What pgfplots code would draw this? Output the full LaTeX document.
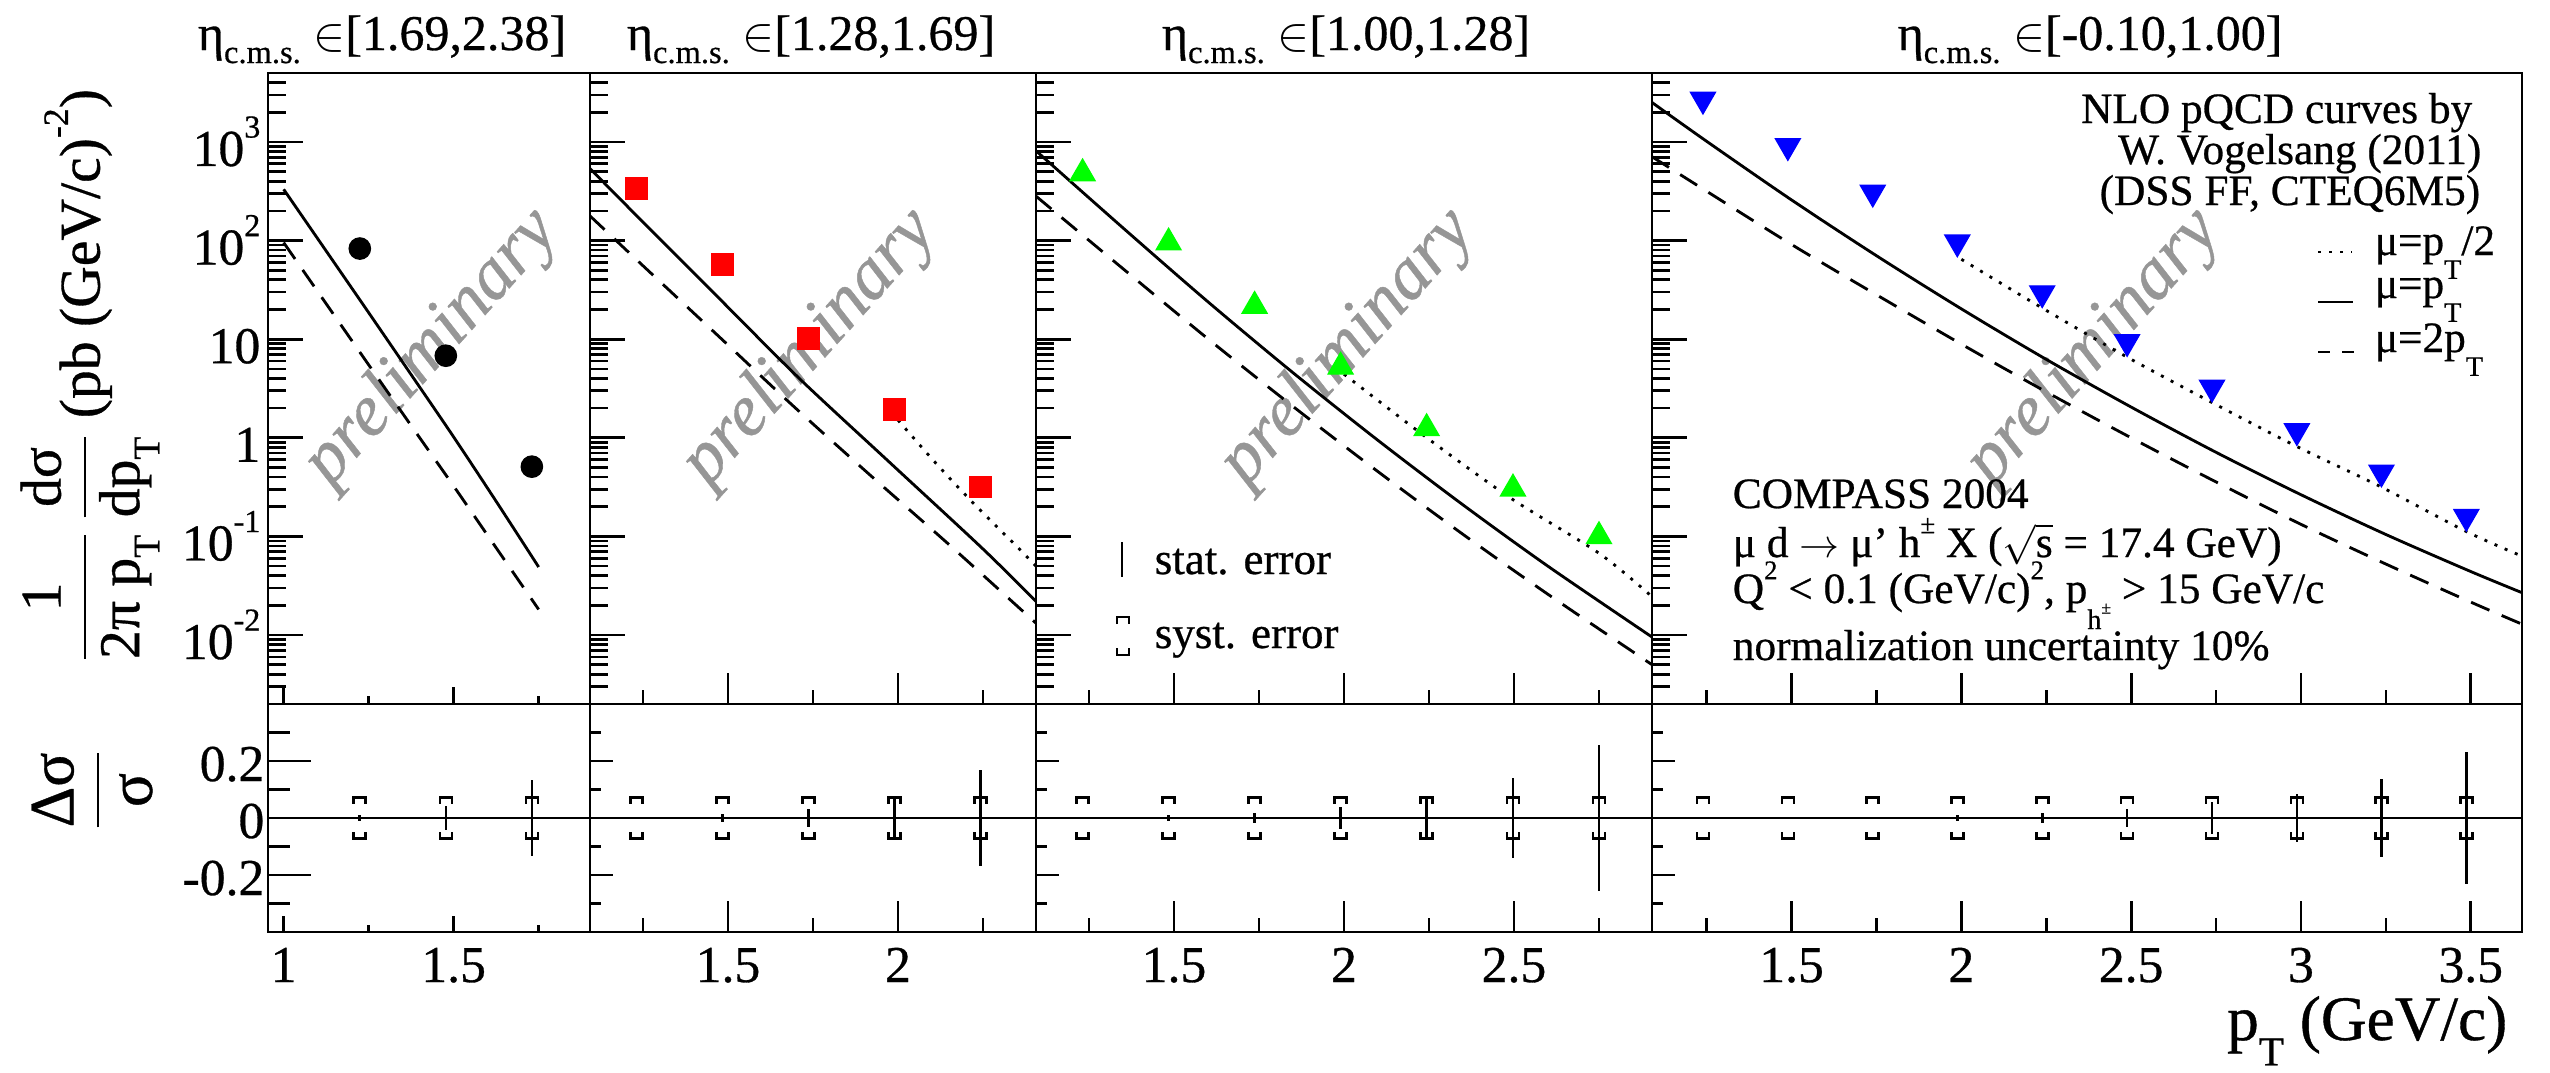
\documentclass[border=0pt]{standalone}
\usepackage{fontspec}
\setmainfont{Liberation Serif}[FakeBold=0.6]
\usepackage{amsmath}
\usepackage{graphicx}
\usepackage{pgfplots}
\pgfplotsset{compat=1.18}
\definecolor{wm}{RGB}{150,150,150}
\definecolor{rgreen}{RGB}{0,255,0}
\definecolor{rred}{RGB}{255,0,0}
\definecolor{rblue}{RGB}{0,0,255}
\DeclareRobustCommand{\sbs}[2][0.3em]{\raisebox{-#1}{\scalebox{0.65}{#2}}}
\DeclareRobustCommand{\sps}[1]{\raisebox{0.55em}{\scalebox{0.62}{#1}}}

\pgfdeclareplotmark{brtop}{%
  \pgfpathmoveto{\pgfqpoint{-\pgfplotmarksize}{-1.1\pgfplotmarksize}}%
  \pgfpathlineto{\pgfqpoint{-\pgfplotmarksize}{0pt}}%
  \pgfpathlineto{\pgfqpoint{\pgfplotmarksize}{0pt}}%
  \pgfpathlineto{\pgfqpoint{\pgfplotmarksize}{-1.1\pgfplotmarksize}}%
  \pgfusepathqstroke}
\pgfdeclareplotmark{brbot}{%
  \pgfpathmoveto{\pgfqpoint{-\pgfplotmarksize}{1.1\pgfplotmarksize}}%
  \pgfpathlineto{\pgfqpoint{-\pgfplotmarksize}{0pt}}%
  \pgfpathlineto{\pgfqpoint{\pgfplotmarksize}{0pt}}%
  \pgfpathlineto{\pgfqpoint{\pgfplotmarksize}{1.1\pgfplotmarksize}}%
  \pgfusepathqstroke}

\pgfplotsset{
  myframe/.style={/pgfplots/scale only axis, /pgfplots/axis line style={line width=0.85pt},
    /pgfplots/every tick/.append style={line width=0.8pt, black}, /pgfplots/tick align=inside},
  mytopA/.style={/pgfplots/myframe, /pgfplots/height=189.3pt, /pgfplots/ymin=0.002, /pgfplots/ymax=5000,
    /pgfplots/xtick=\empty,
    /pgfplots/ytick={0.01,0.1,1,10,100,1000},
    /pgfplots/minor ytick={0.002,0.003,0.004,0.005,0.006,0.007,0.008,0.009,0.02,0.03,0.04,0.05,0.06,0.07,0.08,0.09,0.2,0.3,0.4,0.5,0.6,0.7,0.8,0.9,2,3,4,5,6,7,8,9,20,30,40,50,60,70,80,90,200,300,400,500,600,700,800,900,2000,3000,4000,5000},
    /pgfplots/ytick pos=left, /pgfplots/major tick length=10.5pt, /pgfplots/minor tick length=5.4pt,
    /pgfplots/yticklabels={}},
  mytopB/.style={/pgfplots/myframe, /pgfplots/height=189.3pt, /pgfplots/ymin=0, /pgfplots/ymax=1,
    /pgfplots/ytick=\empty, /pgfplots/xtick pos=left, /pgfplots/xticklabels={}},
  mybotA/.style={/pgfplots/myframe, /pgfplots/height=68.4pt, /pgfplots/ymin=-0.4, /pgfplots/ymax=0.4,
    /pgfplots/xtick=\empty, /pgfplots/ytick={-0.2,0,0.2},
    /pgfplots/minor ytick={-0.3,-0.1,0.1,0.3}, /pgfplots/ytick pos=left, /pgfplots/yticklabels={}},
  mybotB/.style={/pgfplots/myframe, /pgfplots/height=68.4pt, /pgfplots/ymin=-0.4, /pgfplots/ymax=0.4,
    /pgfplots/ytick=\empty, /pgfplots/xtick pos=left,
    /pgfplots/xticklabel style={anchor=base, inner sep=0pt, yshift=-15pt, font=\fontsize{15.5}{16}\selectfont}},
  mycurve/.style={black, line width=0.85pt, smooth, mark=none},
  mydashed/.style={black, line width=0.85pt, smooth, mark=none, dash pattern=on 6pt off 4pt},
  mydotted/.style={black, line width=0.85pt, smooth, mark=none, dash pattern=on 0.9pt off 2.4pt},
  myzline/.style={black, line width=0.85pt, mark=none},
  mysyst/.style={only marks, mark=brtop, mark size=1.8pt, mark options={line width=0.8pt, black}},
  mysystb/.style={only marks, mark=brbot, mark size=1.8pt, mark options={line width=0.8pt, black}},
}

\begin{document}
\begin{tikzpicture}
% watermarks (behind everything)
\begin{scope}[x=0.3pt,y=-0.3pt]
\foreach \cx in {432,810,1348,2094} {
  \node[rotate=48, text=wm, font=\itshape\fontsize{22}{22}\selectfont] at (\cx,348) {preliminary};
}
\end{scope}

% ================= TOP PADS =================
% Panel 1
\begin{axis}[ymode=log, mytopA, at={(80.4pt,-21.9pt)}, anchor=north west, width=96.6pt, xmin=0.954, xmax=1.901,
  yticklabels={10\sps{-2},10\sps{-1},1,10,10\sps{2},10\sps{3}},
  yticklabel style={anchor=base east, inner sep=0pt, xshift=-2.1pt, yshift=-7.2pt, font=\fontsize{15.5}{16}\selectfont}]
\addplot[mycurve] coordinates {(1.0,331) (1.125,78.5) (1.25,18.6) (1.375,4.37) (1.5,1.02) (1.625,0.227) (1.75,0.049)};
\addplot[mydashed] coordinates {(1.0,95.5) (1.125,22.9) (1.25,5.50) (1.375,1.33) (1.5,0.324) (1.625,0.0767) (1.75,0.0182)};
\addplot[only marks, mark=*, mark size=3.2pt, black] coordinates {(1.224,83) (1.477,6.8) (1.73,0.51)};
\end{axis}
\begin{axis}[mytopB, at={(80.4pt,-21.9pt)}, anchor=north west, width=96.6pt, xmin=0.954, xmax=1.901,
  xtick={1,1.5}, minor xtick={1.25,1.75}, major tick length=5.1pt, minor tick length=2.4pt]
\end{axis}

% Panel 2
\begin{axis}[ymode=log, mytopA, at={(177pt,-21.9pt)}, anchor=north west, width=133.8pt, xmin=1.094, xmax=2.406]
\addplot[mycurve] coordinates {(1.094,537) (1.241,165.2) (1.48,24.7) (1.712,3.93) (1.98,0.545) (2.251,0.0741) (2.406,0.0219)};
\addplot[mydashed] coordinates {(1.094,177.8) (1.25,55.5) (1.47,10.9) (1.692,2.10) (1.92,0.413) (2.156,0.0794) (2.406,0.0132)};
\addplot[mydotted] coordinates {(2.0,1.514) (2.11,0.56) (2.221,0.2188) (2.349,0.0794) (2.406,0.0501)};
\addplot[only marks, mark=square*, mark size=3.2pt, rred] coordinates {(1.230,339) (1.483,56.9) (1.736,10.2) (1.989,1.95) (2.242,0.318)};
\end{axis}
\begin{axis}[mytopB, at={(177pt,-21.9pt)}, anchor=north west, width=133.8pt, xmin=1.094, xmax=2.406,
  xtick={1.5,2}, minor xtick={1.25,1.75,2.25}, major tick length=9.3pt, minor tick length=4.3pt]
\end{axis}

% Panel 3
\begin{axis}[ymode=log, mytopA, at={(310.8pt,-21.9pt)}, anchor=north west, width=184.8pt, xmin=1.094, xmax=2.906]
\addplot[mycurve] coordinates {(1.094,813) (1.35,134.3) (1.6,23.9) (1.85,4.57) (2.1,0.942) (2.35,0.209) (2.6,0.0499) (2.906,0.00955)};
\addplot[mydashed] coordinates {(1.094,282) (1.35,51.8) (1.6,10.07) (1.85,2.08) (2.1,0.454) (2.35,0.105) (2.6,0.0259) (2.906,0.00501)};
\addplot[mydotted] coordinates {(2.0,4.42) (2.24,1.023) (2.49,0.245) (2.75,0.0676) (2.906,0.0245)};
\addplot[only marks, mark=triangle*, mark size=4.3pt, rgreen, mark options={yshift=-1.07pt}] coordinates {(1.231,521) (1.484,103.5) (1.737,23.6) (1.99,5.70) (2.243,1.355) (2.497,0.331) (2.75,0.109)};
\end{axis}
\begin{axis}[mytopB, at={(310.8pt,-21.9pt)}, anchor=north west, width=184.8pt, xmin=1.094, xmax=2.906,
  xtick={1.5,2,2.5}, minor xtick={1.25,1.75,2.25,2.75}, major tick length=9.3pt, minor tick length=4.3pt]
\end{axis}

% Panel 4
\begin{axis}[ymode=log, mytopA, at={(495.6pt,-21.9pt)}, anchor=north west, width=261pt, xmin=1.089, xmax=3.651]
\addplot[mycurve] coordinates {(1.089,2512) (1.25,1014) (1.5,258) (1.75,70.2) (2.0,20.3) (2.25,6.24) (2.5,2.05) (2.75,0.713) (3.0,0.265) (3.25,0.1047) (3.5,0.0441) (3.651,0.0269)};
\addplot[mydashed] coordinates {(1.089,708) (1.25,316) (1.5,91.2) (1.75,28.2) (2.0,8.91) (2.25,2.92) (2.5,1.0) (2.75,0.357) (3.0,0.1327) (3.25,0.0525) (3.5,0.0216) (3.651,0.0129)};
\addplot[mydotted] coordinates {(2.0,64.6) (2.235,21.0) (2.485,6.67) (2.735,2.31) (2.985,0.826) (3.235,0.319) (3.485,0.113) (3.651,0.0631)};
\addplot[only marks, mark=triangle*, mark size=4.3pt, rblue, mark options={yshift=1.07pt, rotate=180}] coordinates {(1.239,2477) (1.489,839) (1.739,283) (1.988,88.5) (2.238,27.0) (2.488,8.65) (2.738,2.98) (2.988,1.08) (3.237,0.411) (3.487,0.146)};
\end{axis}
\begin{axis}[mytopB, at={(495.6pt,-21.9pt)}, anchor=north west, width=261pt, xmin=1.089, xmax=3.651,
  xtick={1.5,2,2.5,3,3.5}, minor xtick={1.25,1.75,2.25,2.75,3.25}, major tick length=9.3pt, minor tick length=4.3pt]
\end{axis}

% ================= BOTTOM PADS =================
% Panel 1
\begin{axis}[mybotA, at={(80.4pt,-211.2pt)}, anchor=north west, width=96.6pt, xmin=0.954, xmax=1.901,
  major tick length=12.9pt, minor tick length=6.6pt, yticklabels={-0.2,0,0.2},
  yticklabel style={anchor=base east, inner sep=0pt, xshift=-0.9pt, yshift=-6pt, font=\fontsize{15.5}{16}\selectfont}]
\addplot[myzline] coordinates {(0.9,0) (2.0,0)};
\addplot[draw=none, mark=none, error bars/.cd, y dir=both, y explicit, error mark=none, error bar style={draw=black, solid, line width=0.8pt}]
  coordinates {(1.224,0) +- (0,0.011) (1.477,0) +- (0,0.041) (1.73,0) +- (0,0.132)};
\addplot[mysyst] coordinates {(1.224,0.073) (1.477,0.073) (1.73,0.073)};
\addplot[mysystb] coordinates {(1.224,-0.073) (1.477,-0.073) (1.73,-0.073)};
\end{axis}
\begin{axis}[mybotB, at={(80.4pt,-211.2pt)}, anchor=north west, width=96.6pt, xmin=0.954, xmax=1.901,
  xtick={1,1.5}, minor xtick={1.25,1.75}, xticklabels={1,1.5}, major tick length=4.8pt, minor tick length=2.1pt]
\end{axis}

% Panel 2
\begin{axis}[mybotA, at={(177pt,-211.2pt)}, anchor=north west, width=133.8pt, xmin=1.094, xmax=2.406,
  major tick length=6.9pt, minor tick length=3.3pt]
\addplot[myzline] coordinates {(1.0,0) (2.5,0)};
\addplot[draw=none, mark=none, error bars/.cd, y dir=both, y explicit, error mark=none, error bar style={draw=black, solid, line width=0.8pt}]
  coordinates {(1.230,0) +- (0,0.005) (1.483,0) +- (0,0.014) (1.736,0) +- (0,0.033) (1.989,0) +- (0,0.073) (2.242,0) +- (0,0.169)};
\addplot[mysyst] coordinates {(1.230,0.073) (1.483,0.073) (1.736,0.073) (1.989,0.073) (2.242,0.073)};
\addplot[mysystb] coordinates {(1.230,-0.073) (1.483,-0.073) (1.736,-0.073) (1.989,-0.073) (2.242,-0.073)};
\end{axis}
\begin{axis}[mybotB, at={(177pt,-211.2pt)}, anchor=north west, width=133.8pt, xmin=1.094, xmax=2.406,
  xtick={1.5,2}, minor xtick={1.25,1.75,2.25}, xticklabels={1.5,2}, major tick length=9.3pt, minor tick length=4.2pt]
\end{axis}

% Panel 3
\begin{axis}[mybotA, at={(310.8pt,-211.2pt)}, anchor=north west, width=184.8pt, xmin=1.094, xmax=2.906,
  major tick length=6.9pt, minor tick length=3.3pt]
\addplot[myzline] coordinates {(1.0,0) (3.0,0)};
\addplot[draw=none, mark=none, error bars/.cd, y dir=both, y explicit, error mark=none, error bar style={draw=black, solid, line width=0.8pt}]
  coordinates {(1.231,0) +- (0,0.004) (1.484,0) +- (0,0.010) (1.737,0) +- (0,0.019) (1.99,0) +- (0,0.040) (2.243,0) +- (0,0.075) (2.497,0) +- (0,0.142) (2.75,0) +- (0,0.257)};
\addplot[mysyst] coordinates {(1.231,0.073) (1.484,0.073) (1.737,0.073) (1.99,0.073) (2.243,0.073) (2.497,0.073) (2.75,0.073)};
\addplot[mysystb] coordinates {(1.231,-0.073) (1.484,-0.073) (1.737,-0.073) (1.99,-0.073) (2.243,-0.073) (2.497,-0.073) (2.75,-0.073)};
\end{axis}
\begin{axis}[mybotB, at={(310.8pt,-211.2pt)}, anchor=north west, width=184.8pt, xmin=1.094, xmax=2.906,
  xtick={1.5,2,2.5}, minor xtick={1.25,1.75,2.25,2.75}, xticklabels={1.5,2,2.5}, major tick length=9.3pt, minor tick length=4.2pt]
\end{axis}

% Panel 4
\begin{axis}[mybotA, at={(495.6pt,-211.2pt)}, anchor=north west, width=261pt, xmin=1.089, xmax=3.651,
  major tick length=6.9pt, minor tick length=3.3pt]
\addplot[myzline] coordinates {(1.0,0) (3.8,0)};
\addplot[draw=none, mark=none, error bars/.cd, y dir=both, y explicit, error mark=none, error bar style={draw=black, solid, line width=0.8pt}]
  coordinates {(1.239,0) +- (0,0.003) (1.489,0) +- (0,0.003) (1.739,0) +- (0,0.004) (1.988,0) +- (0,0.009) (2.238,0) +- (0,0.019) (2.488,0) +- (0,0.032) (2.738,0) +- (0,0.056) (2.988,0) +- (0,0.085) (3.237,0) +- (0,0.138) (3.487,0) +- (0,0.233)};
\addplot[mysyst] coordinates {(1.239,0.073) (1.489,0.073) (1.739,0.073) (1.988,0.073) (2.238,0.073) (2.488,0.073) (2.738,0.073) (2.988,0.073) (3.237,0.073) (3.487,0.073)};
\addplot[mysystb] coordinates {(1.239,-0.073) (1.489,-0.073) (1.739,-0.073) (1.988,-0.073) (2.238,-0.073) (2.488,-0.073) (2.738,-0.073) (2.988,-0.073) (3.237,-0.073) (3.487,-0.073)};
\end{axis}
\begin{axis}[mybotB, at={(495.6pt,-211.2pt)}, anchor=north west, width=261pt, xmin=1.089, xmax=3.651,
  xtick={1.5,2,2.5,3,3.5}, minor xtick={1.25,1.75,2.25,2.75,3.25}, xticklabels={1.5,2,2.5,3,3.5}, major tick length=9.3pt, minor tick length=4.2pt]
\end{axis}

% ================= TEXTS =================
\begin{scope}[x=0.3pt,y=-0.3pt]
\begin{scope}[font=\fontsize{15}{16}\selectfont]
\node[anchor=base] at (382,50) {η\sbs[0.26em]{c.m.s.} $\in$[1.69,2.38]};
\node[anchor=base] at (811,50) {η\sbs[0.26em]{c.m.s.} $\in$[1.28,1.69]};
\node[anchor=base] at (1346,50) {η\sbs[0.26em]{c.m.s.} $\in$[1.00,1.28]};
\node[anchor=base] at (2090,50) {η\sbs[0.26em]{c.m.s.} $\in$[-0.10,1.00]};
\end{scope}
\node[rotate=90, font=\fontsize{17.3}{18}\selectfont] at (90,376)
  {$\displaystyle\frac{\text{1}}{\text{2π p\sbs[0.35em]{T}}}\,\frac{\text{dσ}}{\text{dp\sbs[0.35em]{T}}}$ (pb (GeV/c)\sps{-2})};
\node[rotate=90, font=\fontsize{19}{20}\selectfont] at (92,790) {$\displaystyle\frac{\text{Δσ}}{\text{σ}}$};
\node[anchor=base east, font=\fontsize{19}{20}\selectfont] at (2519,1040) {p\sbs[0.40em]{T} (GeV/c)};
\begin{scope}[font=\fontsize{13}{14}\selectfont]
\node[anchor=base east] at (2484,123) {NLO pQCD curves by};
\node[anchor=base east] at (2493,164) {W. Vogelsang (2011)};
\node[anchor=base east] at (2492,205) {(DSS FF, CTEQ6M5)};
\node[anchor=base west] at (2363,255) {μ=p\sbs[0.55em]{T}/2};
\node[anchor=base west] at (2363,298) {μ=p\sbs[0.55em]{T}};
\node[anchor=base west] at (2363,352) {μ=2p\sbs[0.55em]{T}};
\node[anchor=base west] at (1721,508) {COMPASS 2004};
\node[anchor=base west] at (1721,557) {μ d $\rightarrow$ μ' h\sps{±} X ($\sqrt{\text{s}}$ = 17.4 GeV)};
\node[anchor=base west] at (1721,603) {Q\sps{2} < 0.1 (GeV/c)\sps{2}, p\sbs[0.6em]{h\sps{±}} > 15 GeV/c};
\node[anchor=base west] at (1721,660) {normalization uncertainty 10\%};
\end{scope}
\draw[line width=0.85pt, dash pattern=on 0.9pt off 2.4pt] (2318,252)--(2352,252);
\draw[line width=0.85pt] (2318,302)--(2353,302);
\draw[line width=0.85pt, dash pattern=on 3.6pt off 3.6pt] (2318,352)--(2354,352);
\draw[line width=0.8pt] (1122,542)--(1122,577);
\draw[line width=0.8pt] (1117,624)--(1117,617)--(1129,617)--(1129,624);
\draw[line width=0.8pt] (1117,648)--(1117,655)--(1129,655)--(1129,648);
\begin{scope}[font=\fontsize{13.5}{14}\selectfont]
\node[anchor=base west] at (1143,574) {stat. error};
\node[anchor=base west] at (1143,648) {syst. error};
\end{scope}
\end{scope}

\pgfresetboundingbox
\useasboundingbox (0pt,0pt) rectangle (765pt,-321.6pt);
\end{tikzpicture}
\end{document}
